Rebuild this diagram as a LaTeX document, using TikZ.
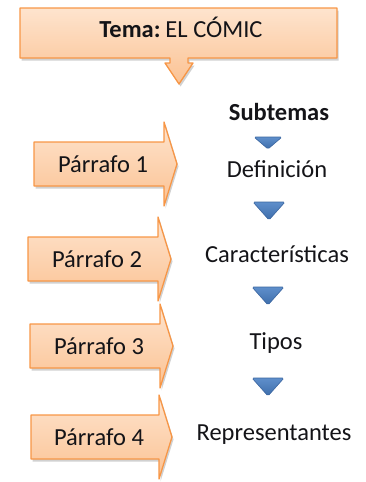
\documentclass[tikz,border=0pt]{standalone}
\usepackage{fontspec}
\setmainfont{Carlito}
\usetikzlibrary{shadows}
\definecolor{orbrd}{HTML}{F79646}
\definecolor{ortop}{HTML}{FEE4CE}
\definecolor{orbot}{HTML}{FBC293}
\definecolor{trtop}{HTML}{5F8FCB}
\definecolor{trbot}{HTML}{3D6DAA}
\definecolor{trbrd}{HTML}{3A65A0}
\definecolor{txt}{HTML}{141418}
\begin{document}
\begin{tikzpicture}[x=1pt,y=-1pt,
  orshape/.style={draw=orbrd, line width=1.3pt, top color=ortop, bottom color=orbot, line join=round,
     drop shadow={opacity=0.3, shadow xshift=1.5pt, shadow yshift=-2.5pt, fill=black!60}},
  trshape/.style={draw=trbrd, line width=0.6pt, top color=trtop, bottom color=trbot, rounded corners=1.5pt},
  lbl/.style={anchor=base, inner sep=0pt, text=txt, font=\fontsize{24.5}{29}\selectfont}]
\useasboundingbox (0,0) rectangle (366,482);
% callout
\path[orshape] (20,8) -- (337,8) -- (337,58) -- (188,58) -- (188,63) -- (193,63) -- (179,84)
   -- (165,63) -- (170,63) -- (170,58) -- (20,58) -- cycle;
\node[lbl] (tema) at (181,37) {\textbf{Tema:}\hspace{0.2em}EL CÓMIC};
% arrows
\newcommand\parrow[5]{%
  \path[orshape] (#1,#2-22) -- (#3,#2-22) -- (#3,#2-42) -- (#3+13,#2) -- (#3,#2+42) -- (#3,#2+22) -- (#1,#2+22) -- cycle;
  \node[lbl] (#5) at ({(#1+#3)/2+4},#2+8) {#4};}
\parrow{34}{164}{164}{Párrafo 1}{p1}
\parrow{28}{259}{158}{Párrafo 2}{p2}
\parrow{30}{346}{160}{Párrafo 3}{p3}
\parrow{31}{437}{159}{Párrafo 4}{p4}
% subtopics
\node[lbl, font=\fontsize{24.5}{29}\selectfont\bfseries] (sub) at (279,120) {Subtemas};
\node[lbl] (def) at (277,177) {Definición};
\node[lbl] (car) at (277,262) {Características};
\node[lbl] (tip) at (276,349) {Tipos};
\node[lbl] (rep) at (274,440) {Representantes};
% triangles
\path[trshape] (254,137) -- (282,137) -- (268,149) -- cycle;
\path[trshape] (253,202) -- (285,202) -- (269,220) -- cycle;
\path[trshape] (252,287) -- (284,287) -- (268,305) -- cycle;
\path[trshape] (252,378) -- (284,378) -- (268,396) -- cycle;
\end{tikzpicture}
\end{document}
